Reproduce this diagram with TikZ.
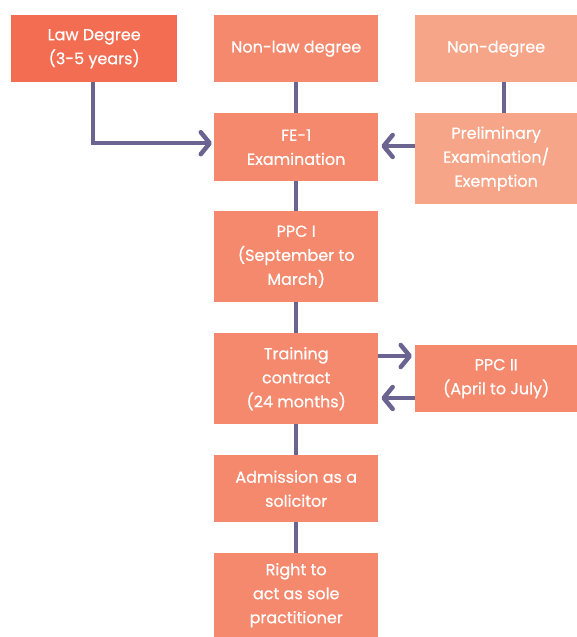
\documentclass[tikz,border=0pt]{standalone}
\usepackage{fontspec}
\setmainfont{Poppins}[FakeBold=0.6]
\usetikzlibrary{arrows.meta}
\definecolor{dark}{HTML}{F26D52}
\definecolor{mid}{HTML}{F4896D}
\definecolor{light}{HTML}{F6A588}
\definecolor{line}{HTML}{6B6490}
\tikzset{
  box/.style={fill=mid, text=white, inner sep=0pt, align=center, font=\fontsize{16}{24}\selectfont, anchor=north west},
  conn/.style={draw=line, line width=4.5pt},
  arr/.style={conn, -{Straight Barb[length=9pt,width=22pt,line width=4.5pt,round]}},
}
\begin{document}
\begin{tikzpicture}[x=1pt,y=-1pt]
\useasboundingbox (0,0) rectangle (577,637);
\node[box,fill=dark,minimum width=166pt,minimum height=67pt] (law) at (11,15) {Law Degree\\(3-5 years)};
\node[box,minimum width=164pt,minimum height=67pt] (nonlaw) at (214,15) {Non-law degree};
\node[box,fill=light,minimum width=162pt,minimum height=67pt] (nondeg) at (415,15) {Non-degree};
\node[box,minimum width=164pt,minimum height=68pt] (fe) at (214,113) {FE-1\\Examination};
\node[box,fill=light,minimum width=162pt,minimum height=91pt] (prelim) at (415,113) {Preliminary\\Examination/\\Exemption};
\node[box,minimum width=164pt,minimum height=91pt] (ppc1) at (214,211) {PPC I\\(September to\\March)};
\node[box,minimum width=164pt,minimum height=91pt] (train) at (214,333) {Training\\contract\\(24 months)};
\node[box,minimum width=162pt,minimum height=67pt] (ppc2) at (415,345) {PPC II\\(April to July)};
\node[box,minimum width=164pt,minimum height=67pt] (adm) at (214,455) {Admission as a\\solicitor};
\node[box,minimum width=164pt,minimum height=84pt] (right) at (214,553) {Right to\\act as sole\\practitioner};
\coordinate (lawx) at (93,0);
\draw[arr] (law.south -| lawx) |- ([xshift=-2pt,yshift=4pt]fe.west);
\draw[arr] ([yshift=-33pt]prelim.north west) -- ([xshift=3pt,yshift=-33pt]fe.north east);
\draw[conn] (nonlaw.south) -- (fe.north);
\draw[conn] ([xshift=8pt]nondeg.south) -- ([xshift=8pt]prelim.north);
\draw[conn] (fe.south) -- (ppc1.north);
\draw[conn] (ppc1.south) -- (train.north);
\draw[conn] (train.south) -- (adm.north);
\draw[conn] (adm.south) -- (right.north);
\draw[arr] ([yshift=-23pt]train.north east) -- ([xshift=-3pt,yshift=-11pt]ppc2.north west);
\draw[arr] ([yshift=-53pt]ppc2.north west) -- ([xshift=3pt,yshift=-65pt]train.north east);
\end{tikzpicture}
\end{document}
